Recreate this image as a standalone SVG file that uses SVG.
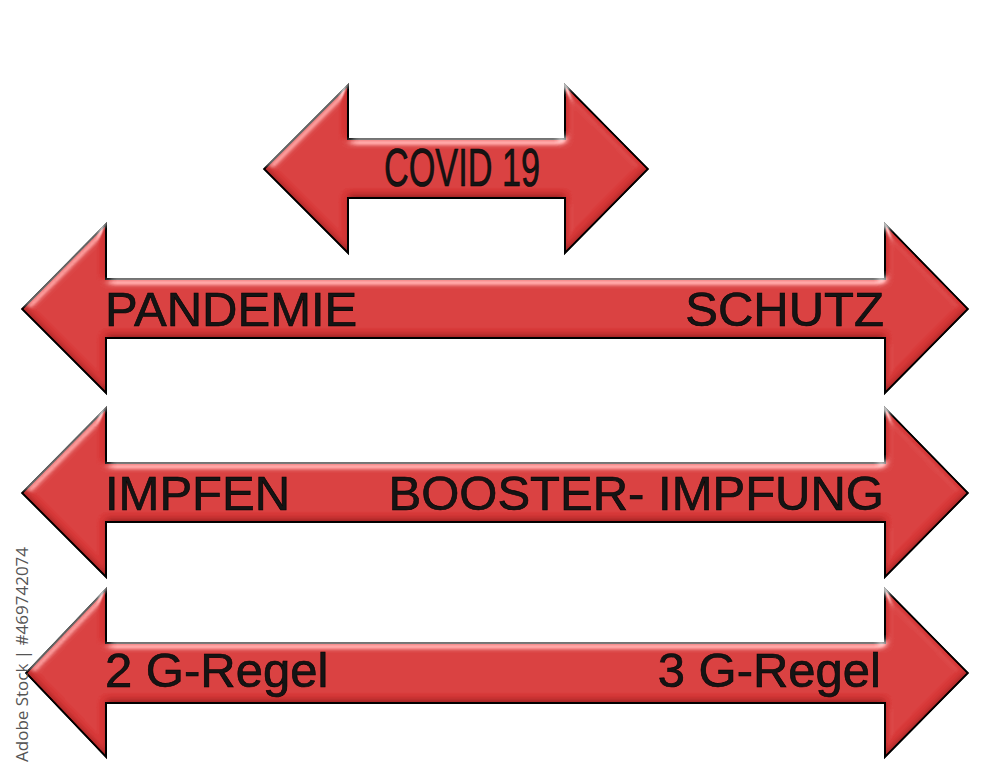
<svg xmlns="http://www.w3.org/2000/svg" width="1000" height="778" viewBox="0 0 1000 778">
<defs>
<style>
.arrow{fill:#d83838;stroke:#000;stroke-width:2;stroke-linejoin:miter;filter:url(#bevel)}
.lbl{font-family:"Liberation Sans",Arial,sans-serif;font-size:49px;fill:#141414;stroke:#000;stroke-width:0.6}
.wm{font-family:"Open Sans","Liberation Sans",sans-serif;font-size:17px;fill:#555}
</style>
<filter id="bevel" x="-5%" y="-10%" width="110%" height="120%">
<feGaussianBlur in="SourceAlpha" stdDeviation="4" result="blur"/>
<feSpecularLighting in="blur" surfaceScale="5" specularConstant="1" specularExponent="25" lighting-color="#ffffff" result="spec">
<feDistantLight azimuth="250" elevation="30"/>
</feSpecularLighting>
<feComposite in="spec" in2="SourceAlpha" operator="in" result="specIn"/>
<feOffset in="SourceAlpha" dx="0" dy="-4" result="off"/>
<feGaussianBlur in="off" stdDeviation="3" result="offb"/>
<feComposite in="SourceAlpha" in2="offb" operator="out" result="shadowMask"/>
<feFlood flood-color="#000" flood-opacity="0.6"/>
<feComposite in2="shadowMask" operator="in" result="inner"/>
<feMerge result="m1">
<feMergeNode in="SourceGraphic"/>
<feMergeNode in="inner"/>
</feMerge>
<feComposite in="m1" in2="SourceAlpha" operator="in" result="m2"/>
<feComposite in="specIn" in2="m2" operator="arithmetic" k1="0" k2="0.5" k3="1" k4="0"/>
</filter>
</defs>
<rect width="1000" height="778" fill="#fff"/>
<g id="arrow-covid">
<path class="arrow" d="M264,169 L348,85 L348,139 L565,139 L565,85 L648,169 L565,253 L565,198 L348,198 L348,253 Z"/>
<text class="lbl" x="384" y="186" textLength="156" lengthAdjust="spacingAndGlyphs" style="font-size:54px">COVID 19</text>
</g>
<g id="arrow-pandemie">
<path class="arrow" d="M22,309 L106,224 L106,279 L885,279 L885,224 L968,309 L885,393 L885,338 L106,338 L106,393 Z"/>
<text class="lbl" x="105" y="326">PANDEMIE</text>
<text class="lbl" x="884" y="326" text-anchor="end">SCHUTZ</text>
</g>
<g id="arrow-impfen">
<path class="arrow" d="M22,493 L106,408 L106,463 L885,463 L885,408 L968,493 L885,577 L885,522 L106,522 L106,577 Z"/>
<text class="lbl" x="105" y="510">IMPFEN</text>
<text class="lbl" x="884" y="510" text-anchor="end">BOOSTER- IMPFUNG</text>
</g>
<g id="arrow-regel">
<path class="arrow" d="M26,673 L106,589 L106,643 L885,643 L885,589 L968,673 L885,757 L885,703 L106,703 L106,757 Z"/>
<text class="lbl" x="105" y="687">2 G-Regel</text>
<text class="lbl" x="881" y="687" text-anchor="end">3 G-Regel</text>
</g>
<g id="connectors"/>
<text class="wm" transform="translate(28,762) rotate(-90)">Adobe Stock | #469742074</text>
</svg>
